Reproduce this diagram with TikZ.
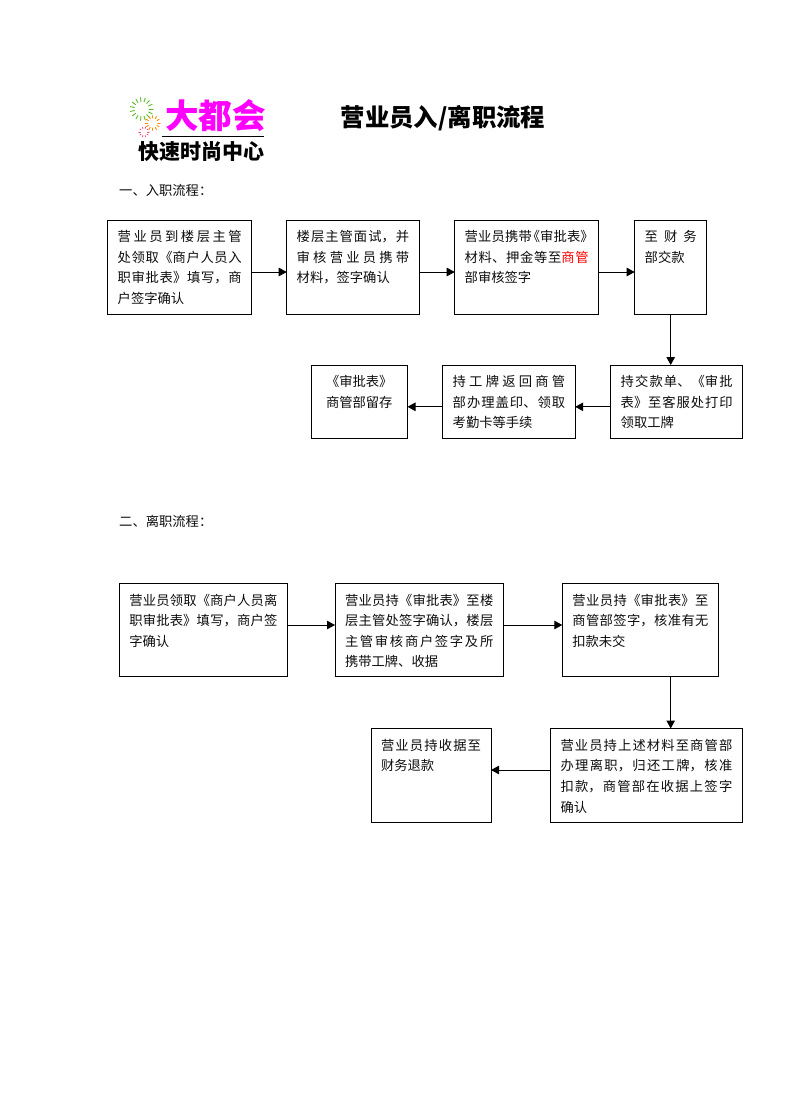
\documentclass[tikz,border=0pt]{standalone}
\usepackage{fontspec}
\setmainfont{Noto Sans CJK SC}
\usetikzlibrary{arrows.meta}
\XeTeXlinebreaklocale "zh"
\XeTeXlinebreakskip=0pt plus 4pt minus 0.5pt
\newcommand{\flowtext}[3]{\parbox[t][#2bp][t]{#1bp}{\fontsize{13.3bp}{20.6bp}\selectfont\sloppy\parindent=0pt\vspace{10.5bp}#3}}
\newcommand{\flowbox}[6]{%
  \pgfmathsetmacro{\fbw}{#4-#2}\pgfmathsetmacro{\fbh}{#5-#3}\pgfmathsetmacro{\fbt}{\fbw-20}%
  \node[flowbox] (#1) at (#2,#3) {\flowtext{\fbt}{\fbh}{#6}};}
\definecolor{inkc}{gray}{0.05}
\definecolor{logomag}{rgb}{1,0,1}
\definecolor{burstg}{RGB}{90,190,40}
\definecolor{burstp}{RGB}{235,60,130}
\tikzset{
  flowbox/.style={draw=black,line width=1bp,anchor=north west,inner xsep=10bp,inner ysep=0pt,text=inkc,outer sep=0pt},
  flowarrow/.style={draw=black,line width=1bp,-{Triangle[length=8bp,width=8.5bp]}},
  headlabel/.style={anchor=west,inner sep=0pt,font=\fontsize{13.3bp}{16bp}\selectfont,text=inkc},
  burst/.style={line width=0.9bp,line cap=round}
}
\begin{document}
\begin{tikzpicture}[x=1bp,y=-1bp]
\useasboundingbox (0,0) rectangle (792,1120);
\fill[white] (0,0) rectangle (792,1120);
% logo
\foreach \a in {0,24,...,336} \draw[burst,draw=burstg] ({141.7+7.5*cos(\a)},{109+7.5*sin(\a)}) -- ({141.7+11.5*cos(\a)},{109+11.5*sin(\a)});
\foreach \a in {0,30,...,330} \draw[burst,draw=orange!90!yellow] ({152.7+5*cos(\a)},{123+5*sin(\a)}) -- ({152.7+7.5*cos(\a)},{123+7.5*sin(\a)});
\foreach \a in {0,36,...,324} \draw[burst,draw=burstp,line width=0.7bp] ({144+3.5*cos(\a)},{132+3.5*sin(\a)}) -- ({144+5.2*cos(\a)},{132+5.2*sin(\a)});
\node[inner sep=0pt,text=logomag,font=\fontsize{33.6bp}{36bp}\selectfont\bfseries] (logoa) at (215.5,116) {大都会};
\draw[line width=1.8bp,black] (162,136.5) -- (264,136.5);
\node[inner sep=0pt,text=black,font=\fontsize{21bp}{24bp}\selectfont\bfseries] (logob) at (201.5,152) {快速时尚中心};
% title
\node[inner sep=0pt,text=black,font=\fontsize{24.4bp}{28bp}\selectfont\bfseries] (title) at (443,118) {营业员入/离职流程};
\node[headlabel] (h1) at (119,190) {一、入职流程：};
\node[headlabel] (h2) at (119,521) {二、离职流程：};
% first flow
\flowbox{b1}{107.7}{220}{251.7}{314}{营业员到楼层主管\linebreak 处领取《商户人员入\linebreak 职审批表》填写，商\linebreak 户签字确认}
\flowbox{b2}{286.7}{220}{419.2}{314}{楼层主管面试，并\linebreak 审核营业员携带\linebreak 材料，签字确认}
\flowbox{b3}{454.7}{220}{598.7}{314}{营业员携带\kern-5bp《审批表》\kern-5bp\linebreak 材料、押金等至{\color{red}商管}\linebreak 部审核签字}
\flowbox{b4}{634.7}{220}{706.7}{314}{至财务\linebreak 部交款}
\flowbox{b5}{610.7}{365}{742.7}{438}{持交款单、《审批\linebreak 表》至客服处打印\linebreak 领取工牌}
\flowbox{b6}{442.7}{365}{575.2}{438}{持工牌返回商管\linebreak 部办理盖印、领取\linebreak 考勤卡等手续}
\flowbox{b7}{311}{365}{407.5}{438}{\centering 《审批表》\par 商管部留存}
% second flow
\flowbox{c1}{119.3}{583.3}{287.5}{676.7}{营业员领取《商户人员离\linebreak 职审批表》填写，商户签\linebreak 字确认}
\flowbox{c2}{335}{583.3}{503.3}{676.7}{营业员持《审批表》至楼\linebreak 层主管处签字确认，楼层\linebreak 主管审核商户签字及所\linebreak 携带工牌、收据}
\flowbox{c3}{562.3}{583.3}{718.5}{676.7}{营业员持《审批表》至\linebreak 商管部签字，核准有无\linebreak 扣款未交}
\flowbox{c4}{550.5}{728.5}{742.3}{822}{营业员持上述材料至商管部\linebreak 办理离职，归还工牌，核准\linebreak 扣款，商管部在收据上签字\linebreak 确认}
\flowbox{c5}{371}{728.5}{491}{822}{营业员持收据至\linebreak 财务退款}
% connector levels
\coordinate (la) at (0,272);
\coordinate (lb) at (0,406.8);
\coordinate (lc) at (0,625);
\coordinate (ld) at (0,770);
\coordinate (vx) at (670.7,0);
\draw[flowarrow] (b1.east |- la) -- (b2.west |- la);
\draw[flowarrow] (b2.east |- la) -- (b3.west |- la);
\draw[flowarrow] (b3.east |- la) -- (b4.west |- la);
\draw[flowarrow] (b4.south -| vx) -- (b5.north -| vx);
\draw[flowarrow] (b5.west |- lb) -- (b6.east |- lb);
\draw[flowarrow] (b6.west |- lb) -- (b7.east |- lb);
\draw[flowarrow] (c1.east |- lc) -- (c2.west |- lc);
\draw[flowarrow] (c2.east |- lc) -- (c3.west |- lc);
\draw[flowarrow] (c3.south -| vx) -- (c4.north -| vx);
\draw[flowarrow] (c4.west |- ld) -- (c5.east |- ld);
\end{tikzpicture}
\end{document}
